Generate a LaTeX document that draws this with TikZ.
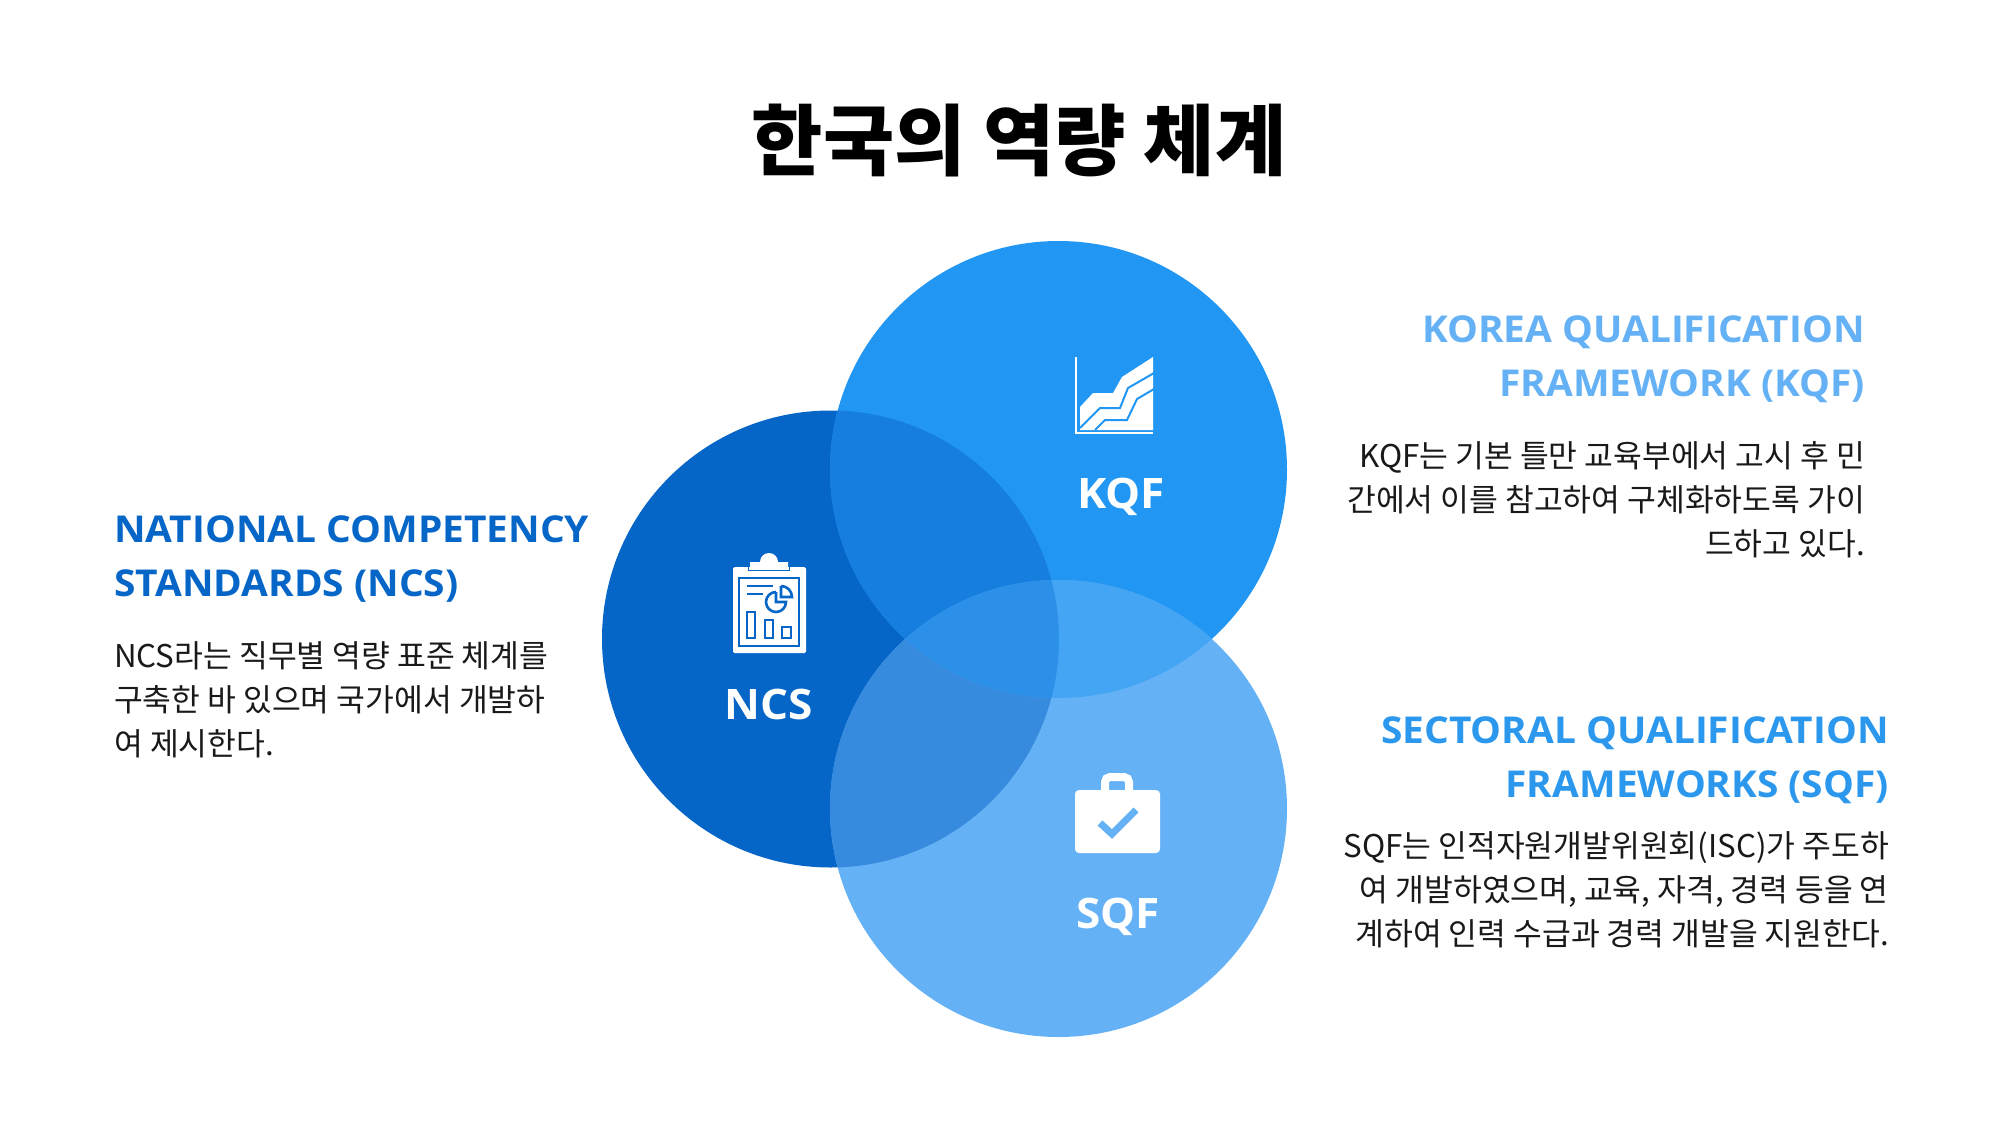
\documentclass[tikz,border=0pt]{standalone}
\usepackage{fontspec}
\setmainfont{Noto Sans CJK KR}
\newfontfamily\headfont[FakeStretch=1.05]{Open Sans}
\usetikzlibrary{positioning}

\definecolor{ncsblue}{HTML}{0566C8}
\definecolor{kqfblue}{HTML}{2196F2}
\definecolor{sqfblue}{HTML}{64B1F5}
\definecolor{ncskqf}{HTML}{157EDF}
\definecolor{kqfsqf}{HTML}{45A5F5}
\definecolor{ncssqf}{HTML}{378BDF}
\definecolor{allthree}{HTML}{2C90E8}
\definecolor{sqfhead}{HTML}{2B98EE}

\tikzset{
  titletext/.style={font=\fontsize{77.5}{77.5}\selectfont\bfseries, inner sep=0pt},
  headtext/.style={font=\headfont\fontsize{37}{54}\selectfont\bfseries, inner sep=0pt},
  bodytext/.style={font=\fontsize{31.3}{44}\selectfont, inner sep=0pt, text=black!90},
  circlabel/.style={font=\headfont\fontsize{42}{42}\selectfont\bfseries, inner sep=0pt, text=white}
}

\begin{document}
\begin{tikzpicture}[x=1pt,y=-1pt]
     \useasboundingbox (0,0) rectangle (2000,1125);
     \fill [white] (0,0) rectangle (2000,1125);
     \draw (1019, 141) node [titletext] (title) {한국의 역량 체계};
     % the three circles first, overlaps are clipped on top of them
     \fill [ncsblue] (830.5,639) circle [radius=228.5];
     \fill [kqfblue] (1058.5,469.5) circle [radius=228.5];
     \fill [sqfblue] (1058.5,808.5) circle [radius=228.5];
     \begin{scope}
       \clip (830.5,639) circle [radius=228.5];
       \fill [ncskqf] (1058.5,469.5) circle [radius=228.5];
       \fill [ncssqf] (1058.5,808.5) circle [radius=228.5];
     \end{scope}
     \begin{scope}
       \clip (1058.5,469.5) circle [radius=228.5];
       \clip (1058.5,808.5) circle [radius=228.5];
       \fill [kqfsqf] (600,500) rectangle (1400,800);
       \fill [allthree] (830.5,639) circle [radius=228.5];
     \end{scope}
     % clipboard icon, the board first and then the lines on top of it
     \fill [white, rounded corners=1.5] (733,567) rectangle (806,653);
     \fill [white] (750,568) -- (750,562) -- (760,562) arc (180:360:9) -- (788,562) -- (788,568) -- cycle;
     \draw [ncsblue, line width=1.8] (748.5,566.5) -- (748.5,570.5) -- (789.5,570.5) -- (789.5,566.5);
     \draw [ncsblue, line width=2.6] (739,578) rectangle (799,646);
     \draw [ncsblue, line width=2.6] (746.5,586) -- (773,586) (746.5,594) -- (763,594);
     \draw [ncsblue, line width=2.6] (776,592) -- (776,602) -- (786,602) arc (0:270:10);
     \draw [ncsblue, line width=2.6] (781,586) -- (781,597) -- (792,597) arc (0:-90:11);
     \draw [ncsblue, line width=2.6] (747,612) rectangle (755,638);
     \draw [ncsblue, line width=2.6] (765,620) rectangle (773,638);
     \draw [ncsblue, line width=2.6] (782,627) rectangle (791,638);
     \draw (769, 704) node [circlabel] (ncslabel) {NCS};
     % chart icon
     \draw [white, line width=1.8] (1076,357) -- (1076,433) -- (1153,433);
     \fill [white] (1080,428) -- (1080,407) -- (1093,393) -- (1113,393) -- (1122,377) -- (1153,357) -- (1153,430) -- (1080,430) -- cycle;
     \draw [kqfblue, line width=2] (1080,428) -- (1100,408) -- (1120,408) -- (1128,388) -- (1154,373);
     \draw [kqfblue, line width=2] (1095,430) -- (1105,420) -- (1127,420) -- (1137,399) -- (1154,389);
     \draw (1121, 497) node [circlabel] (kqflabel) {KQF};
     % briefcase icon
     \fill [white, rounded corners=4] (1075,790) rectangle (1160,853);
     \draw [white, line width=8, rounded corners=5] (1105,792) -- (1105,777) -- (1129,777) -- (1129,792);
     \draw [sqfblue, line width=7] (1100,823) -- (1112,834) -- (1136,810);
     \draw (1118, 917) node [circlabel] (sqflabel) {SQF};
     % text blocks left side
     \draw (114, 515) node [headtext, anchor=north west, align=left, text=ncsblue] (ncshead) {NATIONAL COMPETENCY\\STANDARDS (NCS)};
     \draw (114, 641) node [bodytext, anchor=north west, align=left] (ncsbody) {NCS라는 직무별 역량 표준 체계를\\구축한 바 있으며 국가에서 개발하\\여 제시한다.};
     % right side, both blocks flush right
     \draw (1865, 315) node [headtext, anchor=north east, align=right, text=sqfblue] (kqfhead) {KOREA QUALIFICATION\\FRAMEWORK (KQF)};
     \draw (1865, 441) node [bodytext, anchor=north east, align=right] (kqfbody) {KQF는 기본 틀만 교육부에서 고시 후 민\\간에서 이를 참고하여 구체화하도록 가이\\드하고 있다.};
     \draw (1889, 716) node [headtext, anchor=north east, align=right, text=sqfhead] (sqfhead) {SECTORAL QUALIFICATION\\FRAMEWORKS (SQF)};
     \draw (1889, 831) node [bodytext, anchor=north east, align=right] (sqfbody) {SQF는 인적자원개발위원회(ISC)가 주도하\\여 개발하였으며, 교육, 자격, 경력 등을 연\\계하여 인력 수급과 경력 개발을 지원한다.};
\end{tikzpicture}
\end{document}
